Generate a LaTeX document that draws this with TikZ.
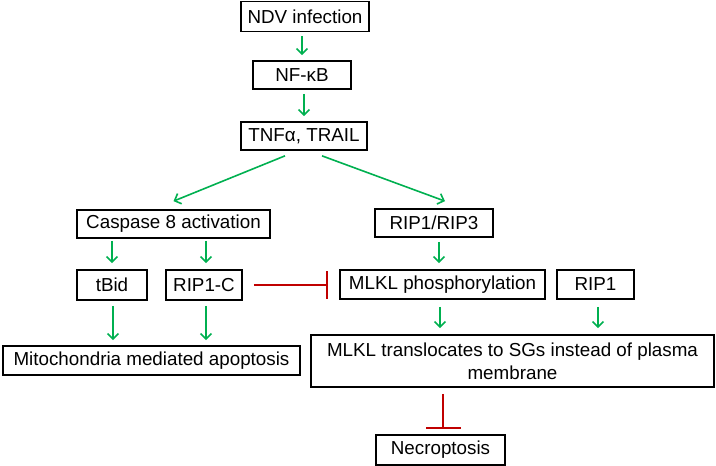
\documentclass[tikz,border=0pt]{standalone}
\usepackage{fontspec}
\setmainfont{Liberation Sans}
\usetikzlibrary{arrows.meta,calc}
\definecolor{grn}{RGB}{0,176,80}
\definecolor{rd}{RGB}{192,0,0}
\begin{document}
\begin{tikzpicture}[x=1pt,y=-1pt,
  box/.style={draw=black,line width=1.7pt,inner sep=0pt,minimum width=#1,minimum height=28pt,
    font=\fontsize{18.8}{23}\selectfont,align=center},
  act/.style={draw=grn,line width=1.6pt,-{Straight Barb[length=5.5pt,width=11pt,line width=1.6pt]}},
  inh/.style={draw=rd,line width=1.6pt,-{Bar[width=#1,line width=1.8pt]}}
]
\useasboundingbox (0,0) rectangle (716,466);
\node[box=128pt,minimum height=30pt] (ndv) at (305,16.5) {NDV infection};
\node[box=98pt] (nfkb) at (302,75) {NF-κB};
\node[box=126pt] (tnf) at (304,136) {TNFα, TRAIL};
\node[box=193pt] (casp) at (173.5,224) {Caspase 8 activation};
\node[box=118pt] (rip13) at (434,223) {RIP1/RIP3};
\node[box=70pt,minimum height=30pt] (tbid) at (112,285) {tBid};
\node[box=76pt,minimum height=30pt] (ripc) at (204,285) {RIP1-C};
\node[box=205pt,minimum height=29pt] (mlklp) at (442.5,284.5) {MLKL phosphorylation};
\node[box=77pt,minimum height=29pt] (rip1) at (595.5,284.5) {RIP1};
\node[box=297pt,minimum height=29pt] (mito) at (151.5,360.5) {Mitochondria mediated apoptosis};
\node[box=403pt,minimum height=52pt] (mlklt) at (512.5,361) {MLKL translocates to SGs instead of plasma\\membrane};
\node[box=129pt,minimum height=30pt] (necro) at (440.5,450) {Necroptosis};

\draw[act,shorten <=4pt,shorten >=5pt] (nfkb.north |- ndv.south) -- (nfkb.north);
\draw[act,shorten <=4pt,shorten >=5pt] (tnf.north |- nfkb.south) -- (tnf.north);
\draw[act] ([xshift=-19pt,yshift=-5pt]tnf.south) -- ([yshift=8pt]casp.north);
\draw[act] ([xshift=18pt,yshift=-5pt]tnf.south) -- ([xshift=11pt,yshift=7pt]rip13.north);
\draw[act,shorten <=2pt,shorten >=6pt] (tbid.north |- casp.south) -- (tbid.north);
\draw[act,shorten <=2pt,shorten >=6pt] ([xshift=2pt]ripc.north |- casp.south) -- ([xshift=2pt]ripc.north);
\draw[act,shorten <=5pt,shorten >=5pt] ([xshift=1pt]tbid.south) -- ([xshift=1pt]tbid.south |- mito.north);
\draw[act,shorten <=5pt,shorten >=5pt] ([xshift=2pt]ripc.south) -- ([xshift=2pt]ripc.south |- mito.north);
\draw[act,shorten <=4pt,shorten >=6pt] ([xshift=5pt]rip13.south) -- ([xshift=5pt]rip13.south |- mlklp.north);
\draw[act,shorten <=7pt,shorten >=6pt] ([xshift=-2.5pt]mlklp.south) -- ([xshift=-2.5pt]mlklp.south |- mlklt.north);
\draw[act,shorten <=7pt,shorten >=6pt] ([xshift=2.5pt]rip1.south) -- ([xshift=2.5pt]rip1.south |- mlklt.north);
\draw[inh=28pt,shorten <=11pt,shorten >=11pt] (ripc.east) -- (ripc.east -| mlklp.west);
\draw[inh=35pt,shorten <=6pt,shorten >=5pt] ([xshift=2.5pt]necro.north |- mlklt.south) -- ([xshift=2.5pt]necro.north);
\end{tikzpicture}
\end{document}
